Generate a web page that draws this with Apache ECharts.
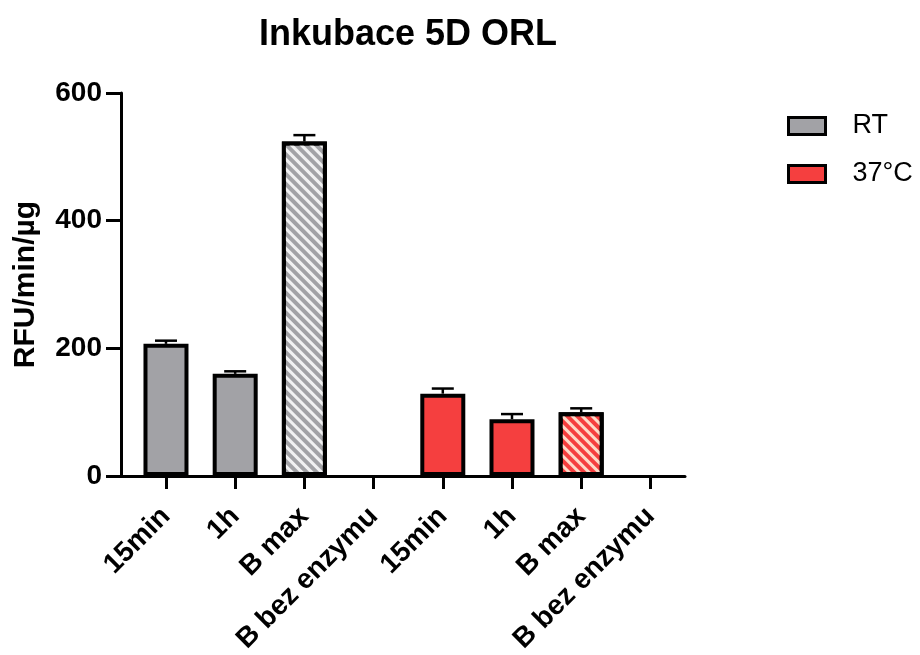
<!DOCTYPE html>
<html>
<head>
<meta charset="utf-8">
<script src="https://cdn.jsdelivr.net/npm/echarts@6/dist/echarts.min.js"></script>
<style>html,body{margin:0;padding:0;background:#fff}#c{width:920px;height:655px}</style>
</head>
<body>
<div id="c"></div>
<script>
const categories = ['15min', '1h', 'B max', 'B bez enzymu', '15min', '1h', 'B max', 'B bez enzymu'];
const rtIndex = [0, 1, 2, 3];
const rtValues = [207, 160, 524, 0];
const rtErrors = [5, 4, 10, 0];
const warmIndex = [4, 5, 6, 7];
const warmValues = [129, 89, 100, 0];
const warmErrors = [8, 8, 6, 0];
const hatched = ['B max'];
const yTicks = [0, 200, 400, 600];

const FONT = '"Liberation Sans", Arial, sans-serif';
const GRAY = '#a2a2a6';
const RED = '#f53f3f';

function stripe(col) {
  return { symbol: 'rect', symbolSize: 1, dashArrayX: [1, 0], dashArrayY: [3, 4], rotation: Math.PI / 4, color: col };
}
function barData(idx, vals, stripeCol) {
  return idx.map((x, i) => {
    const item = { value: [x, vals[i]], itemStyle: {} };
    if (hatched.includes(categories[x])) item.itemStyle.decal = stripe(stripeCol);
    if (vals[i] === 0) item.itemStyle.borderWidth = 0;
    return item;
  });
}
function errData(idx, vals, errs) {
  return idx.map((x, i) => [x, vals[i], errs[i]]).filter(d => d[2] > 0);
}
function renderErr(params, api) {
  const x = api.value(0), m = api.value(1), e = api.value(2);
  const p0 = api.coord([x, m]);
  const p1 = api.coord([x, m + e]);
  const st = { stroke: '#000', lineWidth: 2.5 };
  return {
    type: 'group',
    children: [
      { type: 'line', shape: { x1: p0[0], y1: p0[1], x2: p1[0], y2: p1[1] }, style: st },
      { type: 'line', shape: { x1: p1[0] - 11, y1: p1[1], x2: p1[0] + 11, y2: p1[1] }, style: st }
    ]
  };
}

const chart = echarts.init(document.getElementById('c'), null, { renderer: 'canvas' });
chart.setOption({
  animation: false,
  backgroundColor: '#fff',
  title: {
    text: 'Inkubace 5D ORL',
    left: 254, top: 12,
    textStyle: { fontFamily: FONT, fontSize: 36, fontWeight: 'bold', color: '#000' }
  },
  legend: {
    data: ['RT', '37°C'],
    orient: 'vertical',
    left: 782, top: 106,
    itemWidth: 37, itemHeight: 17, itemGap: 18,
    icon: 'rect',
    itemStyle: { borderColor: '#000', borderWidth: 3 },
    textStyle: { fontFamily: FONT, fontSize: 27, color: '#000', lineHeight: 30, padding: [0, 0, 0, 22] }
  },
  grid: { left: 121, right: 235, top: 93, bottom: 179, containLabel: false, outerBoundsMode: 'none' },
  xAxis: {
    type: 'value',
    min: -0.65, max: 7.5,
    splitLine: { show: false },
    axisLine: { show: true, lineStyle: { color: '#000', width: 3 } },
    axisTick: { show: true, length: 13, lineStyle: { color: '#000', width: 3 }, customValues: categories.map((c, i) => i) },
    axisLabel: {
      customValues: categories.map((c, i) => i),
      formatter: v => categories[Math.round(v)],
      rotate: 45, margin: 36,
      fontFamily: FONT, fontSize: 28, fontWeight: 'bold', color: '#000'
    }
  },
  yAxis: {
    type: 'value',
    min: 0, max: 600, interval: 200,
    name: 'RFU/min/µg',
    nameLocation: 'middle', nameGap: 80,
    nameTextStyle: { fontFamily: FONT, fontSize: 30, fontWeight: 'bold', color: '#000' },
    splitLine: { show: false },
    axisLine: { show: true, onZero: false, lineStyle: { color: '#000', width: 3 } },
    axisTick: { show: true, length: 15, lineStyle: { color: '#000', width: 3 } },
    axisLabel: { margin: 19, fontFamily: FONT, fontSize: 28, fontWeight: 'bold', color: '#000' }
  },
  series: [
    {
      name: 'RT', type: 'bar', barWidth: 45, barGap: '-100%',
      itemStyle: { color: GRAY, borderColor: '#000', borderWidth: 4 },
      data: barData(rtIndex, rtValues, 'rgba(255,255,255,0.85)')
    },
    {
      name: '37°C', type: 'bar', barWidth: 45, barGap: '-100%',
      itemStyle: { color: RED, borderColor: '#000', borderWidth: 4 },
      data: barData(warmIndex, warmValues, 'rgba(255,235,215,0.9)')
    },
    {
      name: 'errRT', type: 'custom', renderItem: renderErr, z: 5,
      encode: { x: 0, y: 1 }, data: errData(rtIndex, rtValues, rtErrors)
    },
    {
      name: 'err37', type: 'custom', renderItem: renderErr, z: 5,
      encode: { x: 0, y: 1 }, data: errData(warmIndex, warmValues, warmErrors)
    }
  ]
});
</script>
</body>
</html>
